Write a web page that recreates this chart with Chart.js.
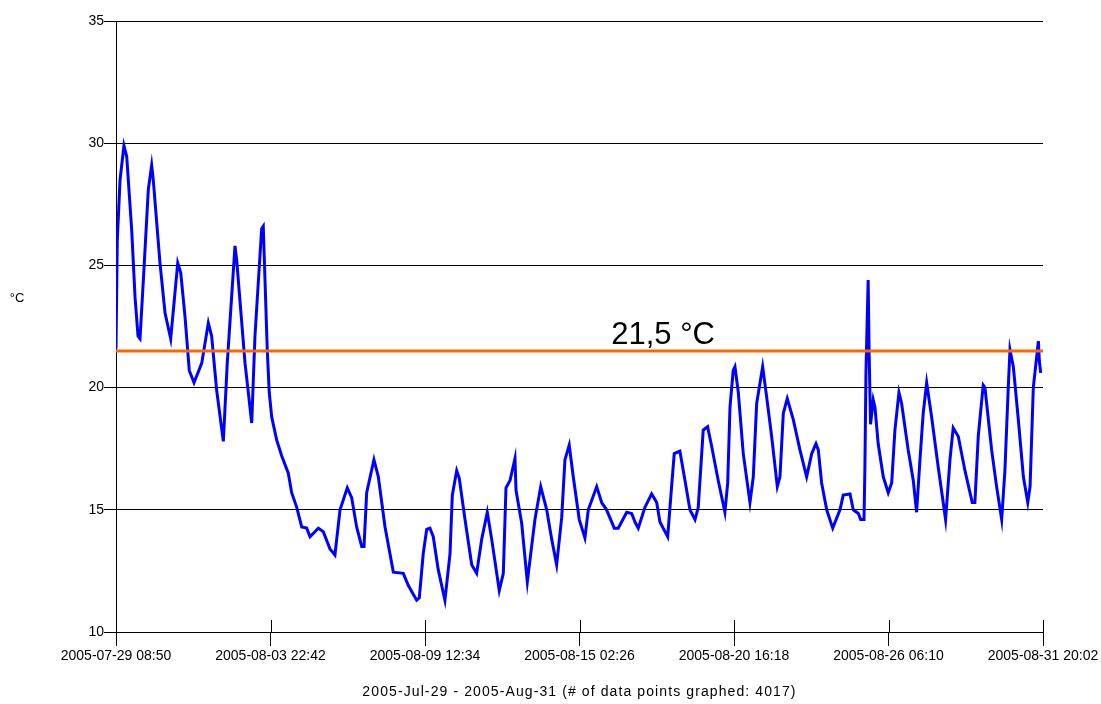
<!DOCTYPE html>
<html>
<head>
<meta charset="utf-8">
<script src="https://cdn.jsdelivr.net/npm/chart.js@4/dist/chart.umd.min.js"></script>
<style>
html,body{margin:0;padding:0;background:#fff;}
canvas{display:block;}
</style>
</head>
<body>
<canvas id="c" width="1101" height="704"></canvas>
<script>
// Hours since 2005-07-29 08:50
const hours = [0,1.1,3.5,6.9,9.3,13.6,16.5,19.1,20.8,23.7,28.0,30.9,32.3,38.1,42.5,47.4,53.5,56.1,59.8,63.5,67.6,74.3,80.0,82.9,87.2,93.0,96.4,103.1,104.6,111.8,117.6,120.4,126.2,127.6,129.1,131.1,132.8,134.9,139.2,143.6,149.3,152.2,156.6,160.9,165.2,168.1,175.3,179.6,185.4,189.7,194.1,200.4,204.2,208.5,212.9,214.9,217.2,223.5,227.3,233.1,240.3,248.9,253.3,260.5,262.8,266.2,269.2,272.0,274.9,279.2,285.0,289.4,291.4,295.2,297.4,302.4,308.2,312.5,316.9,321.7,325.5,332.1,335.6,337.9,341.4,345.7,346.6,351.5,356.4,358.7,363.0,368.0,373.2,377.5,381.8,386.2,389.0,392.7,396.2,401.4,406.3,409.2,416.5,420.8,425.1,431.7,435.2,442.5,446.8,449.7,452.5,458.3,464.1,468.5,471.3,478.0,481.4,483.7,488.6,493.0,497.3,501.7,504.5,508.8,512.6,516.1,521.8,527.6,530.0,532.0,534.8,536.3,539.2,543.5,549.3,552.2,555.1,560.3,563.8,568.1,573.0,575.3,578.2,581.6,586.8,592.6,598.4,602.8,606.5,608.5,611.4,615.8,621.0,627.3,630.1,636.0,638.8,643.2,645.2,648.1,648.9,649.8,651.7,652.6,653.8,656.1,657.6,660.4,664.8,669.1,672.1,674.9,678.4,680.7,686.4,690.8,693.7,696.6,699.4,702.4,706.7,712.4,718.8,722.6,725.4,729.8,735.6,741.9,744.2,747.1,751.4,752.9,758.7,763.0,767.4,770.2,773.1,774.6,777.5,781.8,786.2,790.0,792.0,794.8,799.2,800.0,801.2];
const temps = [21.6,26.0,28.5,29.9,29.45,26.45,23.7,22.1,22.0,24.4,28.1,29.1,28.5,25.1,23.05,22.0,25.1,24.7,22.9,20.7,20.2,21.0,22.65,22.1,19.9,17.8,21.0,25.8,25.2,21.0,18.55,22.1,26.5,26.6,24.4,21.5,19.8,18.8,17.86,17.2,16.5,15.7,15.1,14.3,14.25,13.9,14.25,14.1,13.4,13.15,15.0,15.9,15.5,14.3,13.5,13.5,15.7,17.05,16.35,14.3,12.45,12.4,11.9,11.3,11.4,13.2,14.2,14.25,13.9,12.55,11.3,13.2,15.6,16.6,16.3,14.6,12.75,12.4,13.8,14.9,13.8,11.7,12.4,15.9,16.2,17.1,15.8,14.45,12.05,12.95,14.6,15.95,15.0,13.8,12.75,14.7,17.05,17.65,16.35,14.6,13.85,15.0,15.95,15.3,15.0,14.25,14.25,14.9,14.85,14.5,14.25,15.1,15.65,15.3,14.5,13.9,15.95,17.3,17.4,16.2,15.0,14.6,15.1,18.26,18.4,17.6,16.2,14.9,16.1,19.2,20.7,20.85,19.8,17.3,15.3,16.35,19.35,20.85,19.6,18.0,15.95,16.35,18.95,19.55,18.7,17.45,16.35,17.3,17.7,17.45,16.1,15.0,14.25,15.0,15.6,15.65,15.0,14.85,14.6,14.6,16.75,20.6,24.4,21.3,18.5,19.5,19.2,17.7,16.35,15.7,16.1,18.26,19.8,19.35,17.45,16.2,14.9,17.05,18.95,20.2,18.8,16.75,14.6,17.05,18.35,18.0,16.6,15.3,15.3,18.0,20.1,20.0,17.45,15.95,14.6,16.6,20.0,21.55,20.85,18.7,16.35,15.3,15.95,20.0,21.9,21.1,20.6];
const thresholdValue = 21.5;
const thresholdLabel = "21,5 °C";
const thresholdLabelHour = 474;
const totalHours = 803.2;           // 2005-07-29 08:50 -> 2005-08-31 20:02
const xTickCount = 7;
const yTicks = [10,15,20,25,30,35];
const yUnit = "°C";
const footerText = "2005-Jul-29 - 2005-Aug-31 (# of data points graphed: 4017)";
const startMs = Date.UTC(2005,6,29,8,50);

const FONT = "'Liberation Sans', Arial, sans-serif";
function pad(n){return String(n).padStart(2,'0');}
function fmt(h){
  const d = new Date(startMs + Math.round(h*60)*60000);
  return d.getUTCFullYear()+'-'+pad(d.getUTCMonth()+1)+'-'+pad(d.getUTCDate())+' '+pad(d.getUTCHours())+':'+pad(d.getUTCMinutes());
}

const extras = {
  id:'extras',
  afterDraw(chart){
    const ctx = chart.ctx, a = chart.chartArea, xs = chart.scales.x, ys = chart.scales.y;
    ctx.save();
    // upper part of x ticks
    ctx.strokeStyle='#000'; ctx.lineWidth=1;
    xs.ticks.forEach(t=>{
      const px = Math.round(xs.getPixelForValue(t.value))+0.5;
      ctx.beginPath(); ctx.moveTo(px,a.bottom-12); ctx.lineTo(px,a.bottom); ctx.stroke();
    });
    ctx.fillStyle='#000';
    ctx.font = "31px "+FONT;
    ctx.textAlign='center'; ctx.textBaseline='alphabetic';
    ctx.fillText(thresholdLabel, xs.getPixelForValue(thresholdLabelHour), ys.getPixelForValue(thresholdValue)-7);
    ctx.font = "13px "+FONT;
    ctx.textBaseline='middle';
    ctx.fillText(yUnit, 17, 298);
    ctx.font = "14px "+FONT;
    if ('letterSpacing' in ctx) ctx.letterSpacing = '1.1px';
    ctx.fillText(footerText, (a.left+a.right)/2, 692);
    ctx.restore();
  }
};

new Chart(document.getElementById('c'), {
  type:'line',
  data:{
    datasets:[
      {data: hours.map((h,i)=>({x:h,y:temps[i]})), borderColor:'#0000ff', borderWidth:3, pointRadius:0, tension:0, fill:false, order:1},
      {data: [{x:0,y:thresholdValue},{x:totalHours,y:thresholdValue}], borderColor:'#ff6600', borderWidth:3, pointRadius:0, fill:false, order:0}
    ]
  },
  options:{
    responsive:false, animation:false, devicePixelRatio:1,
    layout:{padding:{top:21,right:58,bottom:0,left:0}},
    plugins:{legend:{display:false}, tooltip:{enabled:false}},
    scales:{
      x:{
        type:'linear', min:0, max:totalHours,
        afterBuildTicks(s){ s.ticks = Array.from({length:xTickCount},(_,i)=>({value:i*totalHours/(xTickCount-1)})); },
        afterFit(s){ s.height = 72; },
        grid:{drawOnChartArea:false, drawTicks:true, tickLength:14, tickColor:'#000', color:'#000'},
        border:{display:true, color:'#000', width:1},
        ticks:{autoSkip:false, maxRotation:0, padding:2, color:'#000', font:{family:FONT, size:14}, callback:(v)=>fmt(v)}
      },
      y:{
        min:10, max:35,
        afterBuildTicks(s){ s.ticks = yTicks.map(v=>({value:v})); },
        afterFit(s){ s.width = 116; },
        grid:{color:'#000', lineWidth:1, drawTicks:true, tickLength:12, tickColor:'#000'},
        border:{display:true, color:'#000', width:1},
        ticks:{padding:0, color:'#000', font:{family:FONT, size:14}}
      }
    }
  },
  plugins:[extras]
});
</script>
</body>
</html>
